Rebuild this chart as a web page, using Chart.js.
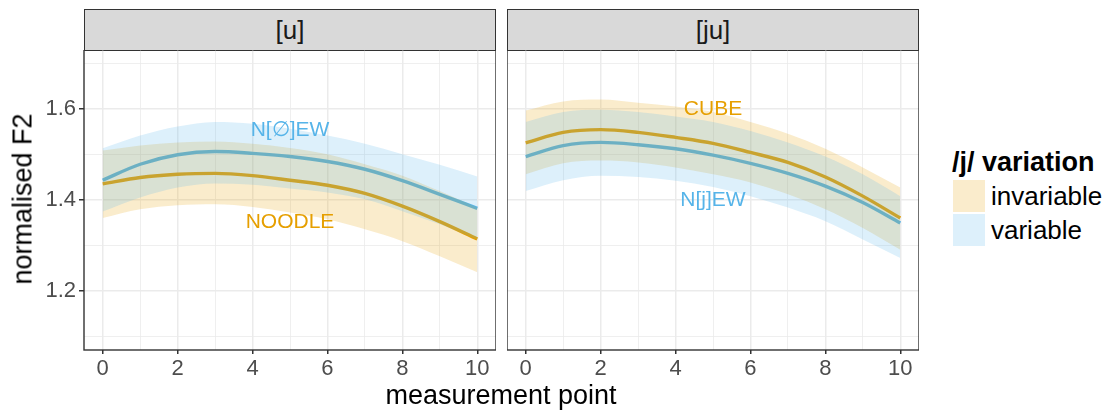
<!DOCTYPE html>
<html>
<head>
<meta charset="utf-8">
<script src="https://cdn.jsdelivr.net/npm/chart.js@4.4.1/dist/chart.umd.min.js"></script>
<style>
body{margin:0;width:1110px;height:412px;background:#fff;font-family:"Liberation Sans",Arial,sans-serif;position:relative;overflow:hidden}
.abs{position:absolute}
.strip{background:#d9d9d9;border:1.4px solid #333;box-sizing:border-box;text-align:center;font-size:26px;color:#1a1a1a;line-height:40px}
.key{width:32px;height:32px}
.lab{font-size:26px;color:#000;line-height:32px}
</style>
</head>
<body>
<div class="abs strip" style="left:84px;top:9px;width:412px;height:42px">[u]</div>
<div class="abs strip" style="left:507px;top:9px;width:412px;height:42px">[ju]</div>
<div class="abs" style="left:30px;top:50px;width:466px;height:342px"><canvas id="chartU"></canvas></div>
<div class="abs" style="left:507px;top:50px;width:412px;height:342px"><canvas id="chartJU"></canvas></div>
<div class="abs" style="left:23px;top:199px;transform:translate(-50%,-50%) rotate(-90deg);font-size:27px;white-space:nowrap">normalised F2</div>
<div class="abs" style="left:501px;top:395px;transform:translate(-50%,-50%);font-size:27px;white-space:nowrap">measurement point</div>
<div class="abs" style="left:952px;top:147px;font-size:27px;font-weight:bold;white-space:nowrap">/j/ variation</div>
<div class="abs key" style="left:953px;top:180px;background:rgba(230,159,0,0.2)"></div>
<div class="abs key" style="left:953px;top:214px;background:rgba(86,180,233,0.2)"></div>
<div class="abs lab" style="left:991px;top:180px">invariable</div>
<div class="abs lab" style="left:991px;top:214px">variable</div>
<script>
var xPoints = [0, 1, 2, 3, 4, 5, 6, 7, 8, 9, 10];
var xTicks = [0, 1, 2, 3, 4, 5, 6, 7, 8, 9, 10];
var yTicks = [1.1, 1.2, 1.3, 1.4, 1.5, 1.6, 1.7];

// [u] panel
var uInvFit = [1.435, 1.449, 1.456, 1.458, 1.453, 1.443, 1.432, 1.414, 1.386, 1.352, 1.314];
var uInvHi  = [1.508, 1.519, 1.526, 1.528, 1.523, 1.514, 1.500, 1.478, 1.453, 1.419, 1.383];
var uInvLo  = [1.360, 1.379, 1.388, 1.390, 1.384, 1.372, 1.357, 1.335, 1.309, 1.276, 1.241];
var uVarFit = [1.443, 1.478, 1.499, 1.506, 1.502, 1.495, 1.484, 1.467, 1.442, 1.412, 1.381];
var uVarHi  = [1.513, 1.541, 1.561, 1.571, 1.567, 1.556, 1.541, 1.523, 1.500, 1.477, 1.451];
var uVarLo  = [1.374, 1.405, 1.427, 1.436, 1.433, 1.425, 1.416, 1.401, 1.375, 1.346, 1.313];

// [ju] panel
var juInvFit = [1.525, 1.548, 1.554, 1.548, 1.537, 1.524, 1.504, 1.482, 1.450, 1.408, 1.360];
var juInvHi  = [1.596, 1.616, 1.620, 1.613, 1.605, 1.593, 1.571, 1.545, 1.512, 1.471, 1.427];
var juInvLo  = [1.456, 1.480, 1.486, 1.482, 1.471, 1.456, 1.438, 1.412, 1.379, 1.338, 1.290];
var juVarFit = [1.495, 1.519, 1.526, 1.521, 1.512, 1.498, 1.480, 1.458, 1.430, 1.394, 1.349];
var juVarHi  = [1.571, 1.593, 1.598, 1.593, 1.583, 1.571, 1.551, 1.526, 1.495, 1.456, 1.408];
var juVarLo  = [1.419, 1.443, 1.453, 1.450, 1.442, 1.428, 1.408, 1.383, 1.353, 1.313, 1.272];

var uNotes = [
    { text: 'N[\u2205]EW', x: 5, y: 1.552, color: '#56B4E9' },
    { text: 'NOODLE', x: 5, y: 1.35, color: '#E69F00' }
];
var juNotes = [
    { text: 'CUBE', x: 5, y: 1.6, color: '#E69F00' },
    { text: 'N[j]EW', x: 5, y: 1.4, color: '#56B4E9' }
];

var invColor = '#E69F00';
var varColor = '#56B4E9';
var invFill = 'rgba(230,159,0,0.2)';
var varFill = 'rgba(86,180,233,0.2)';

function pts(arr) {
    return arr.map(function (v, i) { return { x: xPoints[i], y: v }; });
}

function isMajorY(v) { return Math.round(v * 10) % 2 === 0; }
function isMajorX(v) { return Math.round(v) % 2 === 0; }

var panelBorder = {
    id: 'panelBorder',
    afterDraw: function (chart) {
        var a = chart.chartArea, c = chart.ctx;
        c.save();
        c.strokeStyle = '#333333';
        c.lineWidth = 1.4;
        c.strokeRect(a.left, a.top, a.right - a.left, a.bottom - a.top);
        c.restore();
    }
};

var notesPlugin = {
    id: 'notes',
    afterDatasetsDraw: function (chart, args, opts) {
        var c = chart.ctx;
        c.save();
        c.font = '21px "Liberation Sans", Arial, sans-serif';
        c.textAlign = 'center';
        c.textBaseline = 'middle';
        opts.items.forEach(function (n) {
            c.fillStyle = n.color;
            c.fillText(n.text, chart.scales.x.getPixelForValue(n.x), chart.scales.y.getPixelForValue(n.y));
        });
        c.restore();
    }
};

function makePanel(id, s, showY, notes) {
    var band = function (arr, fill, bg) {
        return {
            data: pts(arr), borderWidth: 0, pointRadius: 0,
            fill: fill, backgroundColor: bg, cubicInterpolationMode: 'monotone'
        };
    };
    var line = function (arr, col) {
        return {
            data: pts(arr), borderColor: col, borderWidth: 3.4, pointRadius: 0,
            fill: false, cubicInterpolationMode: 'monotone'
        };
    };
    new Chart(document.getElementById(id), {
        type: 'line',
        data: {
            datasets: [
                band(s.varHi, false, varFill),
                band(s.varLo, '-1', varFill),
                band(s.invHi, false, invFill),
                band(s.invLo, '-1', invFill),
                line(s.varFit, varColor),
                line(s.invFit, invColor)
            ]
        },
        options: {
            responsive: true,
            maintainAspectRatio: false,
            animation: false,
            layout: { padding: 0 },
            plugins: {
                legend: { display: false },
                tooltip: { enabled: false },
                filler: { drawTime: 'beforeDatasetDraw' },
                notes: { items: notes }
            },
            scales: {
                x: {
                    type: 'linear', min: -0.5, max: 10.5,
                    afterBuildTicks: function (sc) { sc.ticks = xTicks.map(function (v) { return { value: v }; }); },
                    afterFit: function (sc) { sc.height = 42; sc.paddingLeft = 0; sc.paddingRight = 0; },
                    border: { display: false },
                    grid: {
                        color: '#ebebeb',
                        lineWidth: function (c) { return isMajorX(c.tick.value) ? 1.5 : 0.8; },
                        tickColor: function (c) { return isMajorX(c.tick.value) ? '#333333' : 'rgba(0,0,0,0)'; },
                        tickLength: 4
                    },
                    ticks: {
                        autoSkip: false, maxRotation: 0, padding: 2,
                        color: '#4d4d4d',
                        font: { family: '"Liberation Sans", Arial, sans-serif', size: 22 },
                        callback: function (v) { return isMajorX(v) ? String(v) : ''; }
                    }
                },
                y: {
                    type: 'linear', min: 1.07, max: 1.729,
                    afterBuildTicks: function (sc) { sc.ticks = yTicks.map(function (v) { return { value: v }; }); },
                    afterFit: function (sc) { sc.width = showY ? 54 : 0; sc.paddingTop = 0; sc.paddingBottom = 0; },
                    border: { display: false },
                    grid: {
                        color: '#ebebeb',
                        drawTicks: showY,
                        lineWidth: function (c) { return isMajorY(c.tick.value) ? 1.5 : 0.8; },
                        tickColor: function (c) { return isMajorY(c.tick.value) ? '#333333' : 'rgba(0,0,0,0)'; },
                        tickLength: 5
                    },
                    ticks: {
                        display: showY, autoSkip: false, padding: 3,
                        color: '#4d4d4d',
                        font: { family: '"Liberation Sans", Arial, sans-serif', size: 22 },
                        callback: function (v) { return isMajorY(v) ? v.toFixed(1) : ''; }
                    }
                }
            }
        },
        plugins: [panelBorder, notesPlugin]
    });
}

makePanel('chartU', {
    invFit: uInvFit, invHi: uInvHi, invLo: uInvLo,
    varFit: uVarFit, varHi: uVarHi, varLo: uVarLo
}, true, uNotes);

makePanel('chartJU', {
    invFit: juInvFit, invHi: juInvHi, invLo: juInvLo,
    varFit: juVarFit, varHi: juVarHi, varLo: juVarLo
}, false, juNotes);
</script>
</body>
</html>
